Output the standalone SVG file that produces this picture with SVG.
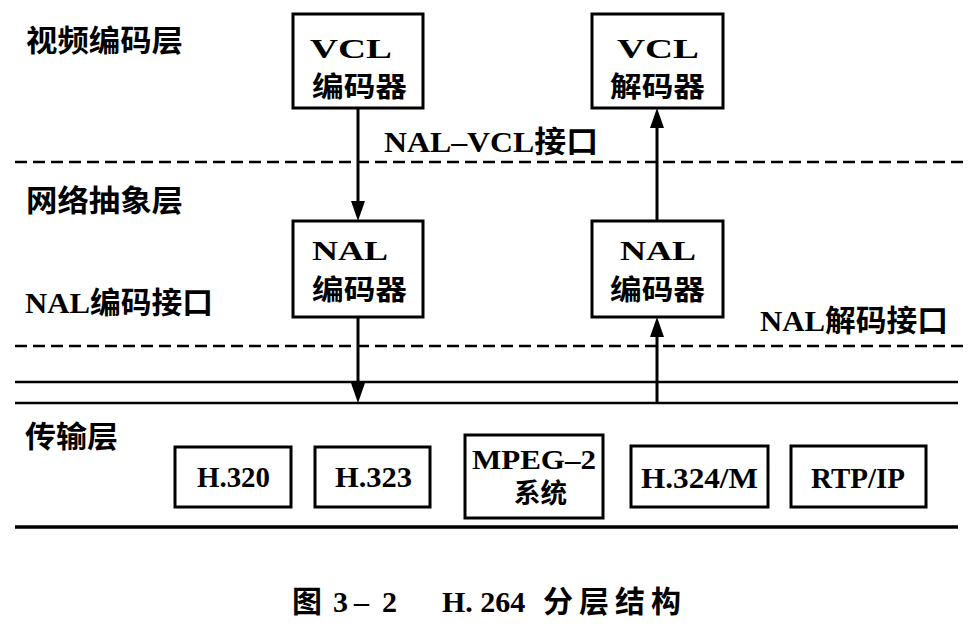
<svg xmlns="http://www.w3.org/2000/svg" width="976" height="636" viewBox="0 0 976 636">
<style>
.box{fill:#fff;stroke:#000;stroke-width:3}
.lat{font-family:"Liberation Serif","Noto Sans CJK SC",serif;font-weight:bold;fill:#000}
.cjk{font-family:"Noto Sans CJK SC","Liberation Serif",sans-serif;font-weight:bold;fill:#000}
.mix{font-family:"Liberation Serif","Noto Sans CJK SC",serif;font-weight:bold;fill:#000}
.dash{stroke:#000;stroke-width:2.5;stroke-dasharray:12 6;fill:none}
.solid{stroke:#000;stroke-width:2.5;fill:none}
.conn{stroke:#000;stroke-width:3;fill:none;marker-end:url(#arr)}
</style>
<defs>
<marker id="arr" viewBox="0 0 20 14" refX="12" refY="7" markerWidth="20" markerHeight="14" markerUnits="userSpaceOnUse" orient="auto">
<path d="M0,0 L20,7 L0,14 Z"/>
</marker>
</defs>
<rect width="976" height="636" fill="#fff"/>

<g id="layer-lines">
<line class="dash" x1="15" y1="162" x2="963" y2="162"/>
<line class="dash" x1="15" y1="346" x2="963" y2="346"/>
<line class="solid" x1="15" y1="382" x2="958" y2="382"/>
<line class="solid" x1="15" y1="403" x2="958" y2="403"/>
<line class="solid" x1="15" y1="527" x2="958" y2="527" style="stroke-width:3.5"/>
</g>

<g id="layer-labels">
<text class="cjk" x="26" y="51" font-size="30" textLength="157" lengthAdjust="spacingAndGlyphs">视频编码层</text>
<text class="cjk" x="26" y="211" font-size="30" textLength="157" lengthAdjust="spacingAndGlyphs">网络抽象层</text>
<text class="mix" x="25" y="313" font-size="30" textLength="188" lengthAdjust="spacingAndGlyphs">NAL编码接口</text>
<text class="mix" x="760" y="331" font-size="30" textLength="188" lengthAdjust="spacingAndGlyphs">NAL解码接口</text>
<text class="mix" x="384" y="152" font-size="30" textLength="214" lengthAdjust="spacingAndGlyphs">NAL–VCL接口</text>
<text class="cjk" x="25" y="447" font-size="30" textLength="93" lengthAdjust="spacingAndGlyphs">传输层</text>
</g>

<g id="vcl-encoder">
<rect class="box" x="293" y="14" width="130" height="94"/>
<text class="lat" x="310" y="58" font-size="27" textLength="82" lengthAdjust="spacingAndGlyphs">VCL</text>
<text class="cjk" x="312" y="97" font-size="28" textLength="95" lengthAdjust="spacingAndGlyphs">编码器</text>
</g>
<g id="vcl-decoder">
<rect class="box" x="592" y="14" width="131" height="94"/>
<text class="lat" x="617" y="58" font-size="27" textLength="82" lengthAdjust="spacingAndGlyphs">VCL</text>
<text class="cjk" x="610" y="97" font-size="28" textLength="95" lengthAdjust="spacingAndGlyphs">解码器</text>
</g>
<g id="nal-encoder-left">
<rect class="box" x="293" y="221" width="130" height="96"/>
<text class="lat" x="312" y="260" font-size="27" textLength="76" lengthAdjust="spacingAndGlyphs">NAL</text>
<text class="cjk" x="312" y="300" font-size="28" textLength="95" lengthAdjust="spacingAndGlyphs">编码器</text>
</g>
<g id="nal-encoder-right">
<rect class="box" x="592" y="221" width="131" height="96"/>
<text class="lat" x="620" y="260" font-size="27" textLength="76" lengthAdjust="spacingAndGlyphs">NAL</text>
<text class="cjk" x="610" y="300" font-size="28" textLength="95" lengthAdjust="spacingAndGlyphs">编码器</text>
</g>

<g id="h320">
<rect class="box" x="175" y="447" width="116" height="60"/>
<text class="lat" x="197" y="487" font-size="29" textLength="73" lengthAdjust="spacingAndGlyphs">H.320</text>
</g>
<g id="h323">
<rect class="box" x="315" y="447" width="115" height="60"/>
<text class="lat" x="335" y="487" font-size="29" textLength="77" lengthAdjust="spacingAndGlyphs">H.323</text>
</g>
<g id="mpeg2">
<rect class="box" x="465" y="435" width="138" height="83"/>
<text class="lat" x="472" y="469" font-size="28" textLength="124" lengthAdjust="spacingAndGlyphs">MPEG–2</text>
<text class="cjk" x="514" y="503" font-size="27" textLength="53" lengthAdjust="spacingAndGlyphs">系统</text>
</g>
<g id="h324m">
<rect class="box" x="631" y="446" width="137" height="61"/>
<text class="lat" x="641" y="488" font-size="29" textLength="117" lengthAdjust="spacingAndGlyphs">H.324/M</text>
</g>
<g id="rtpip">
<rect class="box" x="791" y="446" width="135" height="61"/>
<text class="lat" x="811" y="488" font-size="29" textLength="94" lengthAdjust="spacingAndGlyphs">RTP/IP</text>
</g>

<g id="connectors">
<line class="conn" x1="358" y1="108" x2="358" y2="213"/>
<line class="conn" x1="358" y1="317" x2="358" y2="395"/>
<line class="conn" x1="657" y1="403" x2="657" y2="325"/>
<line class="conn" x1="657" y1="221" x2="657" y2="116"/>
</g>

<g id="caption">
<text class="mix" y="612" font-size="30"><tspan x="292">图</tspan><tspan x="333">3</tspan><tspan x="354">–</tspan><tspan x="382">2</tspan><tspan x="442">H. 264</tspan><tspan x="543" letter-spacing="6">分层结构</tspan></text>
</g>
</svg>
